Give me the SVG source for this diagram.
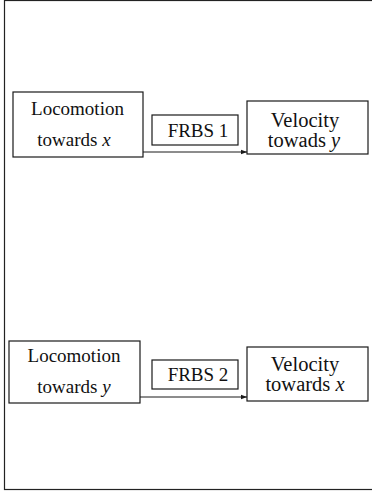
<svg xmlns="http://www.w3.org/2000/svg" width="372" height="492" viewBox="0 0 372 492">
  <style>
    .box { fill: #fff; stroke: #1a1a1a; stroke-width: 1.2; }
    .lbl { font-family: "Liberation Serif", "Times New Roman", serif; font-size: 19px; fill: #111; text-anchor: middle; }
    .big { font-size: 20.5px; }
    .it { font-style: italic; }
    .wire { stroke: #1a1a1a; stroke-width: 1; fill: none; marker-end: url(#head); }
  </style>
  <defs>
    <marker id="head" viewBox="0 0 6 6" refX="6" refY="3" markerWidth="6" markerHeight="6" markerUnits="userSpaceOnUse" orient="auto">
      <path d="M0,0.8 L6,3 L0,5.2 Z" fill="#1a1a1a"/>
    </marker>
  </defs>

  <rect width="372" height="492" fill="#fff"/>
  <!-- outer frame -->
  <rect x="4.5" y="0.5" width="380" height="489" fill="none" stroke="#222" stroke-width="1.2"/>

  <!-- upper pair -->
  <g id="loco-x">
    <rect class="box" x="13" y="92" width="130" height="65"/>
    <text class="lbl" x="77.5" y="115">Locomotion</text>
    <text class="lbl" x="74" y="146">towards <tspan class="it">x</tspan></text>
  </g>
  <g id="frbs1">
    <rect class="box" x="152" y="115" width="86" height="30"/>
    <text class="lbl" x="198" y="137">FRBS 1</text>
  </g>
  <g id="vel-y">
    <rect class="box" x="247" y="101" width="121" height="53"/>
    <text class="lbl big" x="305" y="127">Velocity</text>
    <text class="lbl big" x="304" y="147">towads <tspan class="it">y</tspan></text>
  </g>

  <!-- lower pair -->
  <g id="loco-y">
    <rect class="box" x="9" y="341" width="131" height="62"/>
    <text class="lbl" x="74" y="362">Locomotion</text>
    <text class="lbl" x="74" y="393">towards <tspan class="it">y</tspan></text>
  </g>
  <g id="frbs2">
    <rect class="box" x="152" y="360" width="86" height="29"/>
    <text class="lbl" x="198" y="381">FRBS 2</text>
  </g>
  <g id="vel-x">
    <rect class="box" x="247" y="347" width="121" height="54"/>
    <text class="lbl big" x="305" y="371">Velocity</text>
    <text class="lbl big" x="305" y="391">towards <tspan class="it">x</tspan></text>
  </g>

  <!-- connectors -->
  <g id="connectors">
    <line class="wire" x1="143" y1="152" x2="247" y2="152"/>
    <line class="wire" x1="140" y1="397" x2="247" y2="397"/>
  </g>
</svg>
